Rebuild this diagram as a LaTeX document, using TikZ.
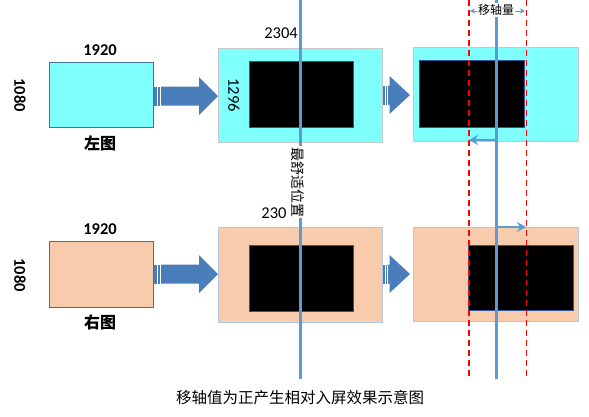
\documentclass[tikz,border=0pt]{standalone}
\usepackage{fontspec}
\setmainfont{Carlito}
\newfontfamily\cjk{Noto Sans CJK SC}
\usetikzlibrary{arrows.meta}
\definecolor{cyanf}{HTML}{80FFFF}
\definecolor{peach}{HTML}{F8CBAD}
\definecolor{darkb}{HTML}{41719C}
\definecolor{axis}{HTML}{5B9BD5}
\definecolor{blk}{HTML}{4A7EBB}
\definecolor{grayb}{HTML}{C8C8C8}
\definecolor{lightb}{HTML}{B4C7E7}
\definecolor{innerb}{HTML}{2F5597}
\tikzset{
  box/.style={draw, rectangle, inner sep=0pt, line width=0.8pt},
  srcbox/.style={box, draw=darkb},
  scrbox/.style={box, line width=1pt},
  inbox/.style={box, fill=black, draw=innerb, line width=1pt},
  axisline/.style={draw=axis, line width=3pt},
  reddash/.style={draw=red, line width=1.5pt, dash pattern=on 6pt off 4pt},
  shiftarrow/.style={draw=axis, line width=2.5pt, -{Stealth[length=9pt,width=10pt]}},
  dimarrow/.style={draw=axis, line width=0.6pt, {Stealth[length=5pt,width=5pt]}-{Stealth[length=5pt,width=5pt]}},
  blockfill/.style={fill=blk, draw=none},
  num/.style={font=\fontsize{16.5}{18}\selectfont},
  bnum/.style={font=\fontsize{16.5}{18}\selectfont\bfseries},
  cjkb/.style={font=\fontsize{16}{18}\selectfont\cjk\bfseries},
}
\begin{document}
\begin{tikzpicture}[x=1pt,y=-1pt]
\useasboundingbox (0,0) rectangle (589,416);
% axes and dashed lines (behind)
\coordinate (ax1t) at (300,0);
\coordinate (ax1b) at (300,379);
\coordinate (ax2t) at (496,0);
\coordinate (ax2b) at (496,379);
\coordinate (rd1t) at (469,0);
\coordinate (rd1b) at (469,379);
\coordinate (rd2t) at (526.5,0);
\coordinate (rd2b) at (526.5,379);

% top row
\node[srcbox, fill=cyanf, minimum width=104pt, minimum height=65pt] (A1) at (101,94.5) {};
\node[scrbox, draw=grayb, fill=cyanf, minimum width=164pt, minimum height=94pt] (A2) at (300,95) {};
\node[inbox, minimum width=104pt, minimum height=66pt] (A2i) at (301,94) {};
\node[scrbox, draw=grayb, fill=cyanf, minimum width=165pt, minimum height=94pt] (A3) at (495.5,94) {};
\node[inbox, minimum width=105pt, minimum height=67pt] (A3i) at (471.5,93.5) {};

% bottom row
\node[srcbox, fill=peach, minimum width=104pt, minimum height=66pt] (B1) at (101,274) {};
\node[scrbox, draw=lightb, fill=peach, minimum width=164pt, minimum height=95pt] (B2) at (300,274.5) {};
\node[inbox, minimum width=104pt, minimum height=66pt] (B2i) at (301,278) {};
\node[scrbox, draw=lightb, fill=peach, minimum width=165pt, minimum height=94pt] (B3) at (495.5,274) {};
\node[inbox, minimum width=105pt, minimum height=65pt] (B3i) at (520.5,277.5) {};

% big block arrows
\foreach \yc in {96,274}{
  \fill[blockfill] (154,\yc-9.5) rectangle (157,\yc+9.5);
  \fill[blockfill] (157.8,\yc-9.5) rectangle (160.2,\yc+9.5);
  \fill[blockfill] (161,\yc-9.5) -- (199,\yc-9.5) -- (199,\yc-19) -- (218,\yc) -- (199,\yc+19) -- (199,\yc+9.5) -- (161,\yc+9.5) -- cycle;
}
% small block arrows
\foreach \yc in {95,274}{
  \fill[blockfill] (382.5,\yc-9.5) rectangle (384.8,\yc+9.5);
  \fill[blockfill] (385.6,\yc-9.5) rectangle (387.2,\yc+9.5);
  \fill[blockfill] (388,\yc-9.5) -- (389.5,\yc-9.5) -- (389.5,\yc-19) -- (410,\yc) -- (389.5,\yc+19) -- (389.5,\yc+9.5) -- (388,\yc+9.5) -- cycle;
}

% axis lines
\draw[axisline] (ax1t) -- (ax1b);
\draw[axisline] (ax2t) -- (ax2b);
\draw[reddash] (rd1t) -- (rd1b);
\draw[reddash] (rd2t) -- (rd2b);

% shift arrows
\coordinate (s1a) at (496,140);
\coordinate (s1b) at (469,140);
\coordinate (s2a) at (496,227);
\coordinate (s2b) at (526,227);
\draw[shiftarrow] (s1a) -- (s1b);
\draw[shiftarrow] (s2a) -- (s2b);

% dimension label
\coordinate (d1) at (470,11);
\coordinate (d2) at (525,11);
\draw[dimarrow] (d1) -- (d2);
\node[fill=white, inner sep=1pt, font=\fontsize{12}{14}\selectfont\cjk] (shiftlbl) at (496,10) {移轴量};

% texts
\node[bnum] (w1) at (100,50) {1920};
\node[bnum, rotate=-90] (h1) at (20,95) {1080};
\node[cjkb] (lt) at (100,143) {左图};
\node[bnum] (w2) at (100,229) {1920};
\node[bnum, rotate=-90] (h2) at (20,275) {1080};
\node[cjkb] (rt) at (100,322) {右图};
\node[num] (n2304) at (281,33) {2304};
\node[num, rotate=-90] (n1296) at (234,95) {1296};
\node[num] (n230) at (274,213) {230};
\node[fill=white, inner sep=1pt, rotate=-90, font=\fontsize{14}{16}\selectfont\cjk] (best) at (298,182) {最舒适位置};
\node[font=\fontsize{15.5}{18}\selectfont\cjk] (cap) at (300,398) {移轴值为正产生相对入屏效果示意图};
\end{tikzpicture}
\end{document}
